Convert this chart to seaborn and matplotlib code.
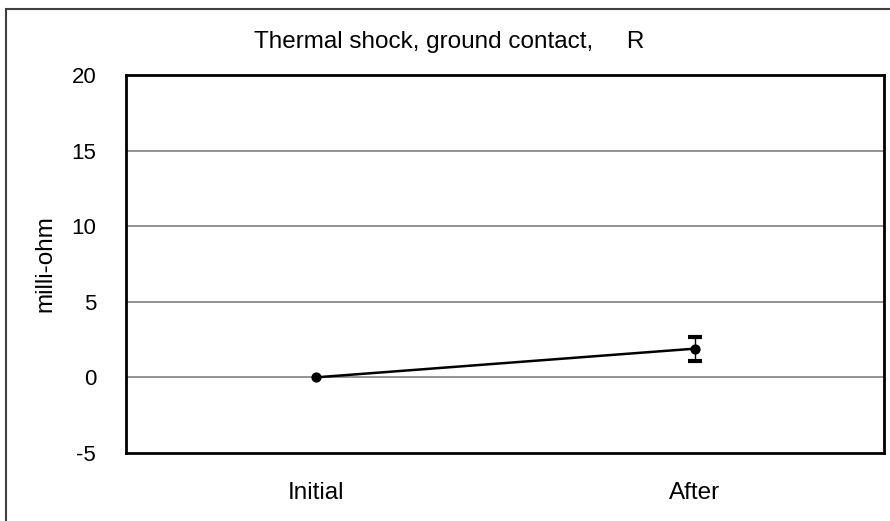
import matplotlib
matplotlib.use("Agg")
import matplotlib.pyplot as plt
import seaborn as sns
import pandas as pd
from matplotlib.patches import Rectangle

categories = ["Initial", "After"]
values = [0.0, 1.9]
errors = [0.0, 0.8]
yticks = [-5, 0, 5, 10, 15, 20]
title = "Thermal shock, ground contact,     R"
ylabel = "milli-ohm"

sns.set_theme(style="white")
plt.rcParams["font.family"] = ["Liberation Sans", "DejaVu Sans"]
plt.rcParams["text.color"] = "black"
plt.rcParams["axes.labelcolor"] = "black"
plt.rcParams["xtick.color"] = "black"
plt.rcParams["ytick.color"] = "black"

fig = plt.figure(figsize=(8.9, 5.21), dpi=100)
W, H = 890, 521
ax = fig.add_axes([126 / W, 1 - 453 / H, (884 - 126) / W, (453 - 75) / H])

# outer frame
fig.patches.append(Rectangle((6 / W, -0.1), 1.2, 1 - 9 / H + 0.1, transform=fig.transFigure,
                             fill=False, edgecolor="#404040", linewidth=1.5, zorder=0))

df = pd.DataFrame({"cat": categories, "val": values})
sns.pointplot(data=df, x="cat", y="val", order=categories, color="black",
              errorbar=None, markers="o", linewidth=1.8, markersize=6, ax=ax, zorder=5)
ax.errorbar([1], [values[1]], yerr=[errors[1]], fmt="none", ecolor="black",
            elinewidth=1.0, capsize=5, capthick=3, zorder=6)

ax.set_ylim(-5, 20)
ax.set_xlim(-0.5, 1.5)
ax.set_yticks(yticks)
ax.set_yticklabels([str(t) for t in yticks], fontsize=16)
ax.tick_params(axis="y", length=0, pad=21.5)
ax.tick_params(axis="x", length=0, pad=21, labelsize=17.5)
for t in [0, 5, 10, 15]:
    ax.axhline(t, color="#808080", linewidth=1.2, zorder=1)
for s in ax.spines.values():
    s.set_visible(True)
    s.set_color("black")
    s.set_linewidth(2)
ax.set_xlabel("")
ax.set_ylabel(ylabel, fontsize=17.5, labelpad=11)
fig.text(449 / W, 1 - 42 / H, title, ha="center", va="center", fontsize=17.5)

fig.savefig("out.png", dpi=100)
